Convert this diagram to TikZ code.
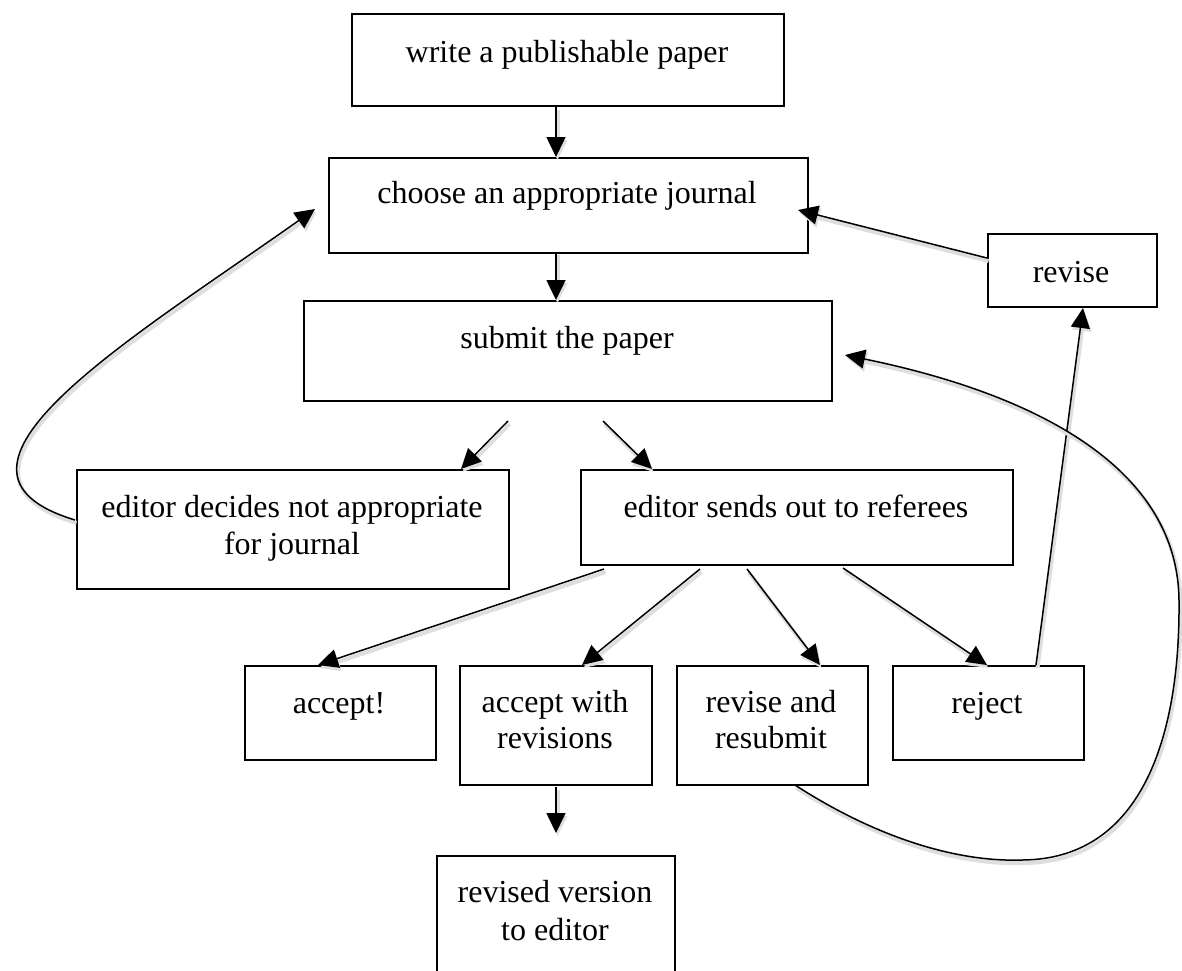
\documentclass[tikz,border=0pt]{standalone}
\usepackage{fontspec}
\setmainfont{Liberation Serif}
\usetikzlibrary{arrows.meta}
\begin{document}
\begin{tikzpicture}[x=1pt,y=-1pt,
  box/.style={draw, line width=1.5pt, inner sep=0pt, anchor=north west},
  lbl/.style={anchor=base, inner sep=0pt, font=\fontsize{32}{37}\selectfont},
  shd/.style={preaction={draw=black!13, line width=4pt, transform canvas={shift={(1.5pt,-3pt)}}}},
  arr/.style={line width=1.5pt, -{Triangle[length=20pt,width=19pt]}, shd},
]
\useasboundingbox (0,0) rectangle (1182,970);
\clip (0,0) rectangle (1182,970);

% boxes
\node[box, minimum width=432pt, minimum height=92pt]  (wp)  at (351,13)  {};
\node[box, minimum width=479pt, minimum height=95pt]  (ch)  at (328,157) {};
\node[box, minimum width=528pt, minimum height=100pt] (sub) at (303,300) {};
\node[box, minimum width=169pt, minimum height=73pt]  (rev) at (987,233) {};
\node[box, minimum width=432pt, minimum height=119pt] (dec) at (76,469)  {};
\node[box, minimum width=432pt, minimum height=95pt]  (snd) at (580,469) {};
\node[box, minimum width=191pt, minimum height=94pt]  (acc) at (244,665) {};
\node[box, minimum width=192pt, minimum height=119pt] (aw)  at (459,665) {};
\node[box, minimum width=191pt, minimum height=119pt] (rr)  at (676,665) {};
\node[box, minimum width=191pt, minimum height=94pt]  (rej) at (892,665) {};
\node[box, minimum width=238pt, minimum height=140pt] (rv)  at (436,855) {};

% texts
\node[lbl] (wp-t)   at (567,62)  {write a publishable paper};
\node[lbl] (ch-t)   at (567,203) {choose an appropriate journal};
\node[lbl] (sub-t)  at (567,348) {submit the paper};
\node[lbl] (rev-t)  at (1071,282) {revise};
\node[lbl] (dec-t1) at (292,517) {editor decides not appropriate};
\node[lbl] (dec-t2) at (292,554) {for journal};
\node[lbl] (snd-t)  at (796,517) {editor sends out to referees};
\node[lbl] (acc-t)  at (339,713) {accept!};
\node[lbl] (aw-t1)  at (555,712) {accept with};
\node[lbl] (aw-t2)  at (555,748) {revisions};
\node[lbl] (rr-t1)  at (771,712) {revise and};
\node[lbl] (rr-t2)  at (771,748) {resubmit};
\node[lbl] (rej-t)  at (987,713) {reject};
\node[lbl] (rv-t1)  at (555,902) {revised version};
\node[lbl] (rv-t2)  at (555,940) {to editor};

% connector ends
\coordinate (a1s) at (556,107);  \coordinate (a1e) at (556,157);
\coordinate (a2s) at (556,252);  \coordinate (a2e) at (556,300);
\coordinate (a3s) at (508,421);  \coordinate (a3e) at (461,469);
\coordinate (a4s) at (603,421);  \coordinate (a4e) at (652,469);
\coordinate (a5s) at (987,258);  \coordinate (a5e) at (798,210);
\coordinate (a6s) at (1036,665); \coordinate (a6e) at (1083,308);
\coordinate (a7s) at (604,569);  \coordinate (a7e) at (318,665);
\coordinate (a8s) at (700,569);  \coordinate (a8e) at (582,665);
\coordinate (a9s) at (747,569);  \coordinate (a9e) at (820,665);
\coordinate (a10s) at (843,568); \coordinate (a10e) at (987,665);
\coordinate (a11s) at (556,787); \coordinate (a11e) at (556,833);
\coordinate (cAs) at (75,520);   \coordinate (cAe) at (315,209);
\coordinate (cBs) at (795,785);  \coordinate (cBe) at (845,355);

% connectors
\draw[arr] (a1s) -- (a1e);
\draw[arr] (a2s) -- (a2e);
\draw[arr] (a3s) -- (a3e);
\draw[arr] (a4s) -- (a4e);
\draw[arr] (a5s) -- (a5e);
\draw[arr] (a6s) -- (a6e);
\draw[arr] (a7s) -- (a7e);
\draw[arr] (a8s) -- (a8e);
\draw[arr] (a9s) -- (a9e);
\draw[arr] (a10s) -- (a10e);
\draw[arr] (a11s) -- (a11e);
\draw[arr] (cAs) .. controls (-90,470) and (130,340) .. (cAe);
\draw[arr] (cBs) .. controls (880,840) and (960,862) .. (1021,860)
  .. controls (1150,860) and (1180,720) .. (1179,602)
  .. controls (1179,470) and (1040,395) .. (cBe);
\end{tikzpicture}
\end{document}
